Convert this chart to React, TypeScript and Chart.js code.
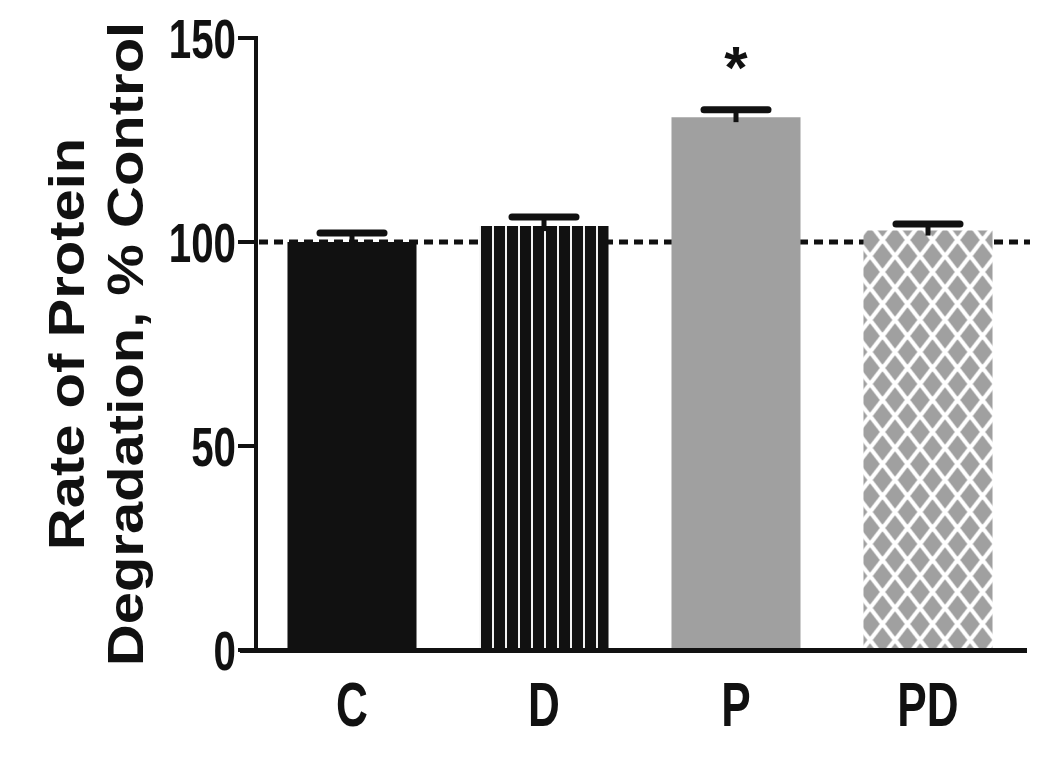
import React, { useEffect, useRef } from 'react';
import { Chart, registerables } from 'chart.js';

Chart.register(...registerables);

// ---- data ----
const categories = ['C', 'D', 'P', 'PD'];
const meanValues = [100, 103.9, 130.6, 102.8];
const semValues = [2.2, 2.2, 1.8, 1.6];
const significance = ['', '', '*', ''];
const yTickValues = [0, 50, 100, 150];
const yMin = 0;
const yMax = 150;
const referenceValue = 100;
const titleLines = ['Rate of Protein', 'Degradation, % Control'];

const INK = '#111111';
const GRAY = '#a0a0a0';
const FONT = '"Liberation Sans", Arial, Helvetica, sans-serif';

function makeStripePattern(ctx: CanvasRenderingContext2D): CanvasPattern | string {
  const c = document.createElement('canvas');
  c.width = 13;
  c.height = 4;
  const g = c.getContext('2d')!;
  g.fillStyle = INK;
  g.fillRect(0, 0, 13, 4);
  g.fillStyle = '#f2f2f2';
  g.fillRect(11, 0, 2, 4);
  const p = ctx.createPattern(c, 'repeat');
  return p || INK;
}

function makeDiamondPattern(ctx: CanvasRenderingContext2D): CanvasPattern | string {
  const w = 25;
  const h = 32;
  const c = document.createElement('canvas');
  c.width = w;
  c.height = h;
  const g = c.getContext('2d')!;
  g.fillStyle = '#ffffff';
  g.fillRect(0, 0, w, h);
  g.fillStyle = GRAY;
  const hw = 9.8;
  const hh = 12.8;
  const centers = [
    [w / 2, 0],
    [w / 2, h],
    [0, h / 2],
    [w, h / 2],
  ];
  for (const [cx, cy] of centers) {
    g.beginPath();
    g.moveTo(cx, cy - hh);
    g.lineTo(cx + hw, cy);
    g.lineTo(cx, cy + hh);
    g.lineTo(cx - hw, cy);
    g.closePath();
    g.fill();
  }
  const p = ctx.createPattern(c, 'repeat');
  if (!p) return GRAY;
  try {
    p.setTransform(new DOMMatrix([1, 0, 0, 1, 870 - w / 2, 240]));
  } catch (e) {
    /* ignore */
  }
  return p;
}

const decorPlugin = {
  id: 'decor',
  beforeDatasetsDraw(chart: any) {
    const { ctx, chartArea } = chart;
    const y = chart.scales.y.getPixelForValue(referenceValue);
    ctx.save();
    ctx.strokeStyle = INK;
    ctx.lineWidth = 5;
    ctx.setLineDash([9, 6]);
    ctx.beginPath();
    ctx.moveTo(chartArea.left + 3, y);
    ctx.lineTo(chartArea.right + 6, y);
    ctx.stroke();
    ctx.restore();
  },
  afterDatasetsDraw(chart: any) {
    const { ctx } = chart;
    const yScale = chart.scales.y;
    const meta = chart.getDatasetMeta(0);
    ctx.save();
    ctx.strokeStyle = INK;
    ctx.fillStyle = INK;
    meanValues.forEach((v, i) => {
      const bar = meta.data[i];
      if (!bar) return;
      const x = bar.x;
      const yTop = yScale.getPixelForValue(v + semValues[i]);
      const yBar = yScale.getPixelForValue(v);
      // stem
      ctx.lineWidth = 5;
      ctx.lineCap = 'butt';
      ctx.beginPath();
      ctx.moveTo(x, yTop);
      ctx.lineTo(x, yBar + 5);
      ctx.stroke();
      // cap
      ctx.lineWidth = 7;
      ctx.lineCap = 'round';
      ctx.beginPath();
      ctx.moveTo(x - 32, yTop);
      ctx.lineTo(x + 32, yTop);
      ctx.stroke();
      if (significance[i]) {
        ctx.font = `bold 60px ${FONT}`;
        ctx.textAlign = 'center';
        ctx.textBaseline = 'alphabetic';
        ctx.fillText(significance[i], x, yTop - 22);
      }
    });
    ctx.restore();
  },
  afterDraw(chart: any) {
    const { ctx, chartArea } = chart;
    const yScale = chart.scales.y;
    const xScale = chart.scales.x;
    ctx.save();
    // x axis line
    const y0 = yScale.getPixelForValue(0);
    ctx.strokeStyle = INK;
    ctx.lineWidth = 5;
    ctx.beginPath();
    ctx.moveTo(chartArea.left - 16, y0 + 0.5);
    ctx.lineTo(chartArea.right + 3, y0 + 0.5);
    ctx.stroke();

    ctx.fillStyle = INK;
    // y tick labels (condensed bold)
    ctx.font = `bold 56px ${FONT}`;
    ctx.textAlign = 'right';
    ctx.textBaseline = 'alphabetic';
    yTickValues.forEach((v) => {
      const y = yScale.getPixelForValue(v);
      ctx.save();
      ctx.translate(chartArea.left - 20, y + 20);
      ctx.scale(0.72, 1);
      ctx.fillText(String(v), 0, 0);
      ctx.restore();
    });
    // x category labels
    ctx.font = `bold 63px ${FONT}`;
    ctx.textAlign = 'center';
    categories.forEach((c, i) => {
      const x = xScale.getPixelForValue(i);
      ctx.save();
      ctx.translate(x, y0 + 76);
      ctx.scale(0.7, 1);
      ctx.fillText(c, 0, 0);
      ctx.restore();
    });
    // y axis title (two rotated lines)
    const cy = (chartArea.top + chartArea.bottom) / 2;
    const baselines = [84, 143];
    ctx.font = `bold 58px ${FONT}`;
    ctx.textAlign = 'center';
    titleLines.forEach((t, i) => {
      ctx.save();
      ctx.translate(baselines[i], cy);
      ctx.scale(0.87, 1);
      ctx.rotate(-Math.PI / 2);
      ctx.fillText(t, 0, 0);
      ctx.restore();
    });
    ctx.restore();
  },
};

export default function App() {
  const canvasRef = useRef<HTMLCanvasElement | null>(null);

  useEffect(() => {
    const canvas = canvasRef.current;
    if (!canvas) return;
    const ctx = canvas.getContext('2d')!;
    const colors = [INK, makeStripePattern(ctx), GRAY, makeDiamondPattern(ctx)];
    const chart = new Chart(canvas, {
      type: 'bar',
      data: {
        labels: categories,
        datasets: [
          {
            data: meanValues,
            backgroundColor: colors as any,
            borderWidth: 0,
            barPercentage: 0.672,
            categoryPercentage: 1,
          },
        ],
      },
      options: {
        animation: false,
        responsive: false,
        devicePixelRatio: 1,
        layout: { padding: { top: 38, right: 26, left: 0, bottom: 0 } },
        plugins: {
          legend: { display: false },
          tooltip: { enabled: false },
          title: { display: false },
        },
        scales: {
          x: {
            type: 'category',
            offset: true,
            grid: { display: false },
            border: { display: false },
            ticks: { display: false },
            afterFit(s: any) {
              s.height = 113;
            },
          },
          y: {
            min: yMin,
            max: yMax,
            afterBuildTicks(s: any) {
              s.ticks = yTickValues.map((v) => ({ value: v }));
            },
            ticks: { display: false },
            grid: {
              drawOnChartArea: false,
              drawTicks: true,
              tickLength: 18,
              lineWidth: 4,
              color: INK,
            },
            border: { display: true, width: 4, color: INK },
            afterFit(s: any) {
              s.width = 256;
            },
          },
        },
      },
      plugins: [decorPlugin],
    });
    return () => chart.destroy();
  }, []);

  return (
    <div style={{ position: 'fixed', left: 0, top: 0, width: 1050, height: 763, background: '#fff' }}>
      <canvas ref={canvasRef} width={1050} height={763} style={{ display: 'block' }} />
    </div>
  );
}
